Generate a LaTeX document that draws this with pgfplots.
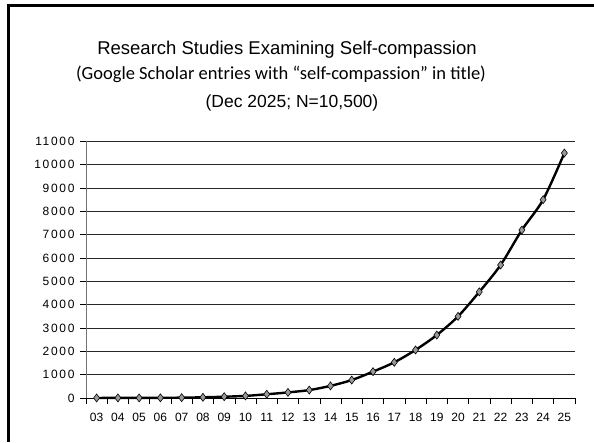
\documentclass[border=0pt]{standalone}
\usepackage{pgfplots}
\pgfplotsset{compat=1.18}
\usepackage{fontspec}
\setmainfont{Liberation Sans}
\newfontfamily\calibri{Carlito}
\newfontfamily\tickfont[LetterSpace=14]{Liberation Sans}
\begin{document}
\begin{tikzpicture}[x=1pt,y=1pt]
\useasboundingbox (-86,-44) rectangle (508,398);
\begin{axis}[
  at={(0,0)}, anchor=south west,
  scale only axis,
  width=489pt, height=256.6pt,
  xmin=-0.5, xmax=22.5,
  ymin=0, ymax=11000,
  axis x line=bottom, axis y line=left,
  axis line style={-},
  x axis line style={black, line width=0.8pt},
  y axis line style={black!55, line width=0.8pt},
  xtick={-0.5,0.5,...,22.5},
  xticklabels={},
  extra x ticks={0,...,22},
  extra x tick labels={03,04,05,06,07,08,09,10,11,12,13,14,15,16,17,18,19,20,21,22,23,24,25},
  extra x tick style={grid=none, major tick length=0pt, tick style={draw=none}},
  ytick={0,1000,...,11000},
  ymajorgrids,
  major grid style={black!85, line width=0.7pt},
  tick style={black, line width=0.6pt},
  tick align=outside,
  major tick length=6pt,
  scaled y ticks=false,
  /pgf/number format/1000 sep={},
  /pgf/number format/assume math mode=true,
  xticklabel style={font=\fontsize{12}{14}\selectfont, yshift=-12pt},
  yticklabel style={font=\tickfont\fontsize{12}{14}\selectfont, xshift=-2pt},
  clip=false,
]
\addplot[black, line width=2.4pt, smooth, tension=0.5,
  mark=diamond*, mark size=4pt,
  mark options={fill=black!40, draw=black, line width=0.6pt}]
coordinates {
(0,2) (1,3) (2,5) (3,8) (4,15) (5,30) (6,55) (7,90) (8,160) (9,240) (10,340)
(11,520) (12,770) (13,1130) (14,1530) (15,2060) (16,2700) (17,3500) (18,4550)
(19,5700) (20,7200) (21,8500) (22,10500)
};
\end{axis}
\draw[line width=2.8pt, line join=miter] (-77.3,-44) -- (-77.3,392.7) -- (508,392.7);
\node[anchor=base, inner sep=0] at (201,343) {\fontsize{18.5}{20}\selectfont Research Studies Examining Self-compassion};
\node[anchor=base, inner sep=0] at (195,318) {\calibri\fontsize{18.5}{20}\selectfont (Google Scholar entries with “self-compassion” in title)};
\node[anchor=base, inner sep=0] at (206,290) {\fontsize{17.5}{19}\selectfont (Dec 2025; N=10,500)};
\end{tikzpicture}
\end{document}
